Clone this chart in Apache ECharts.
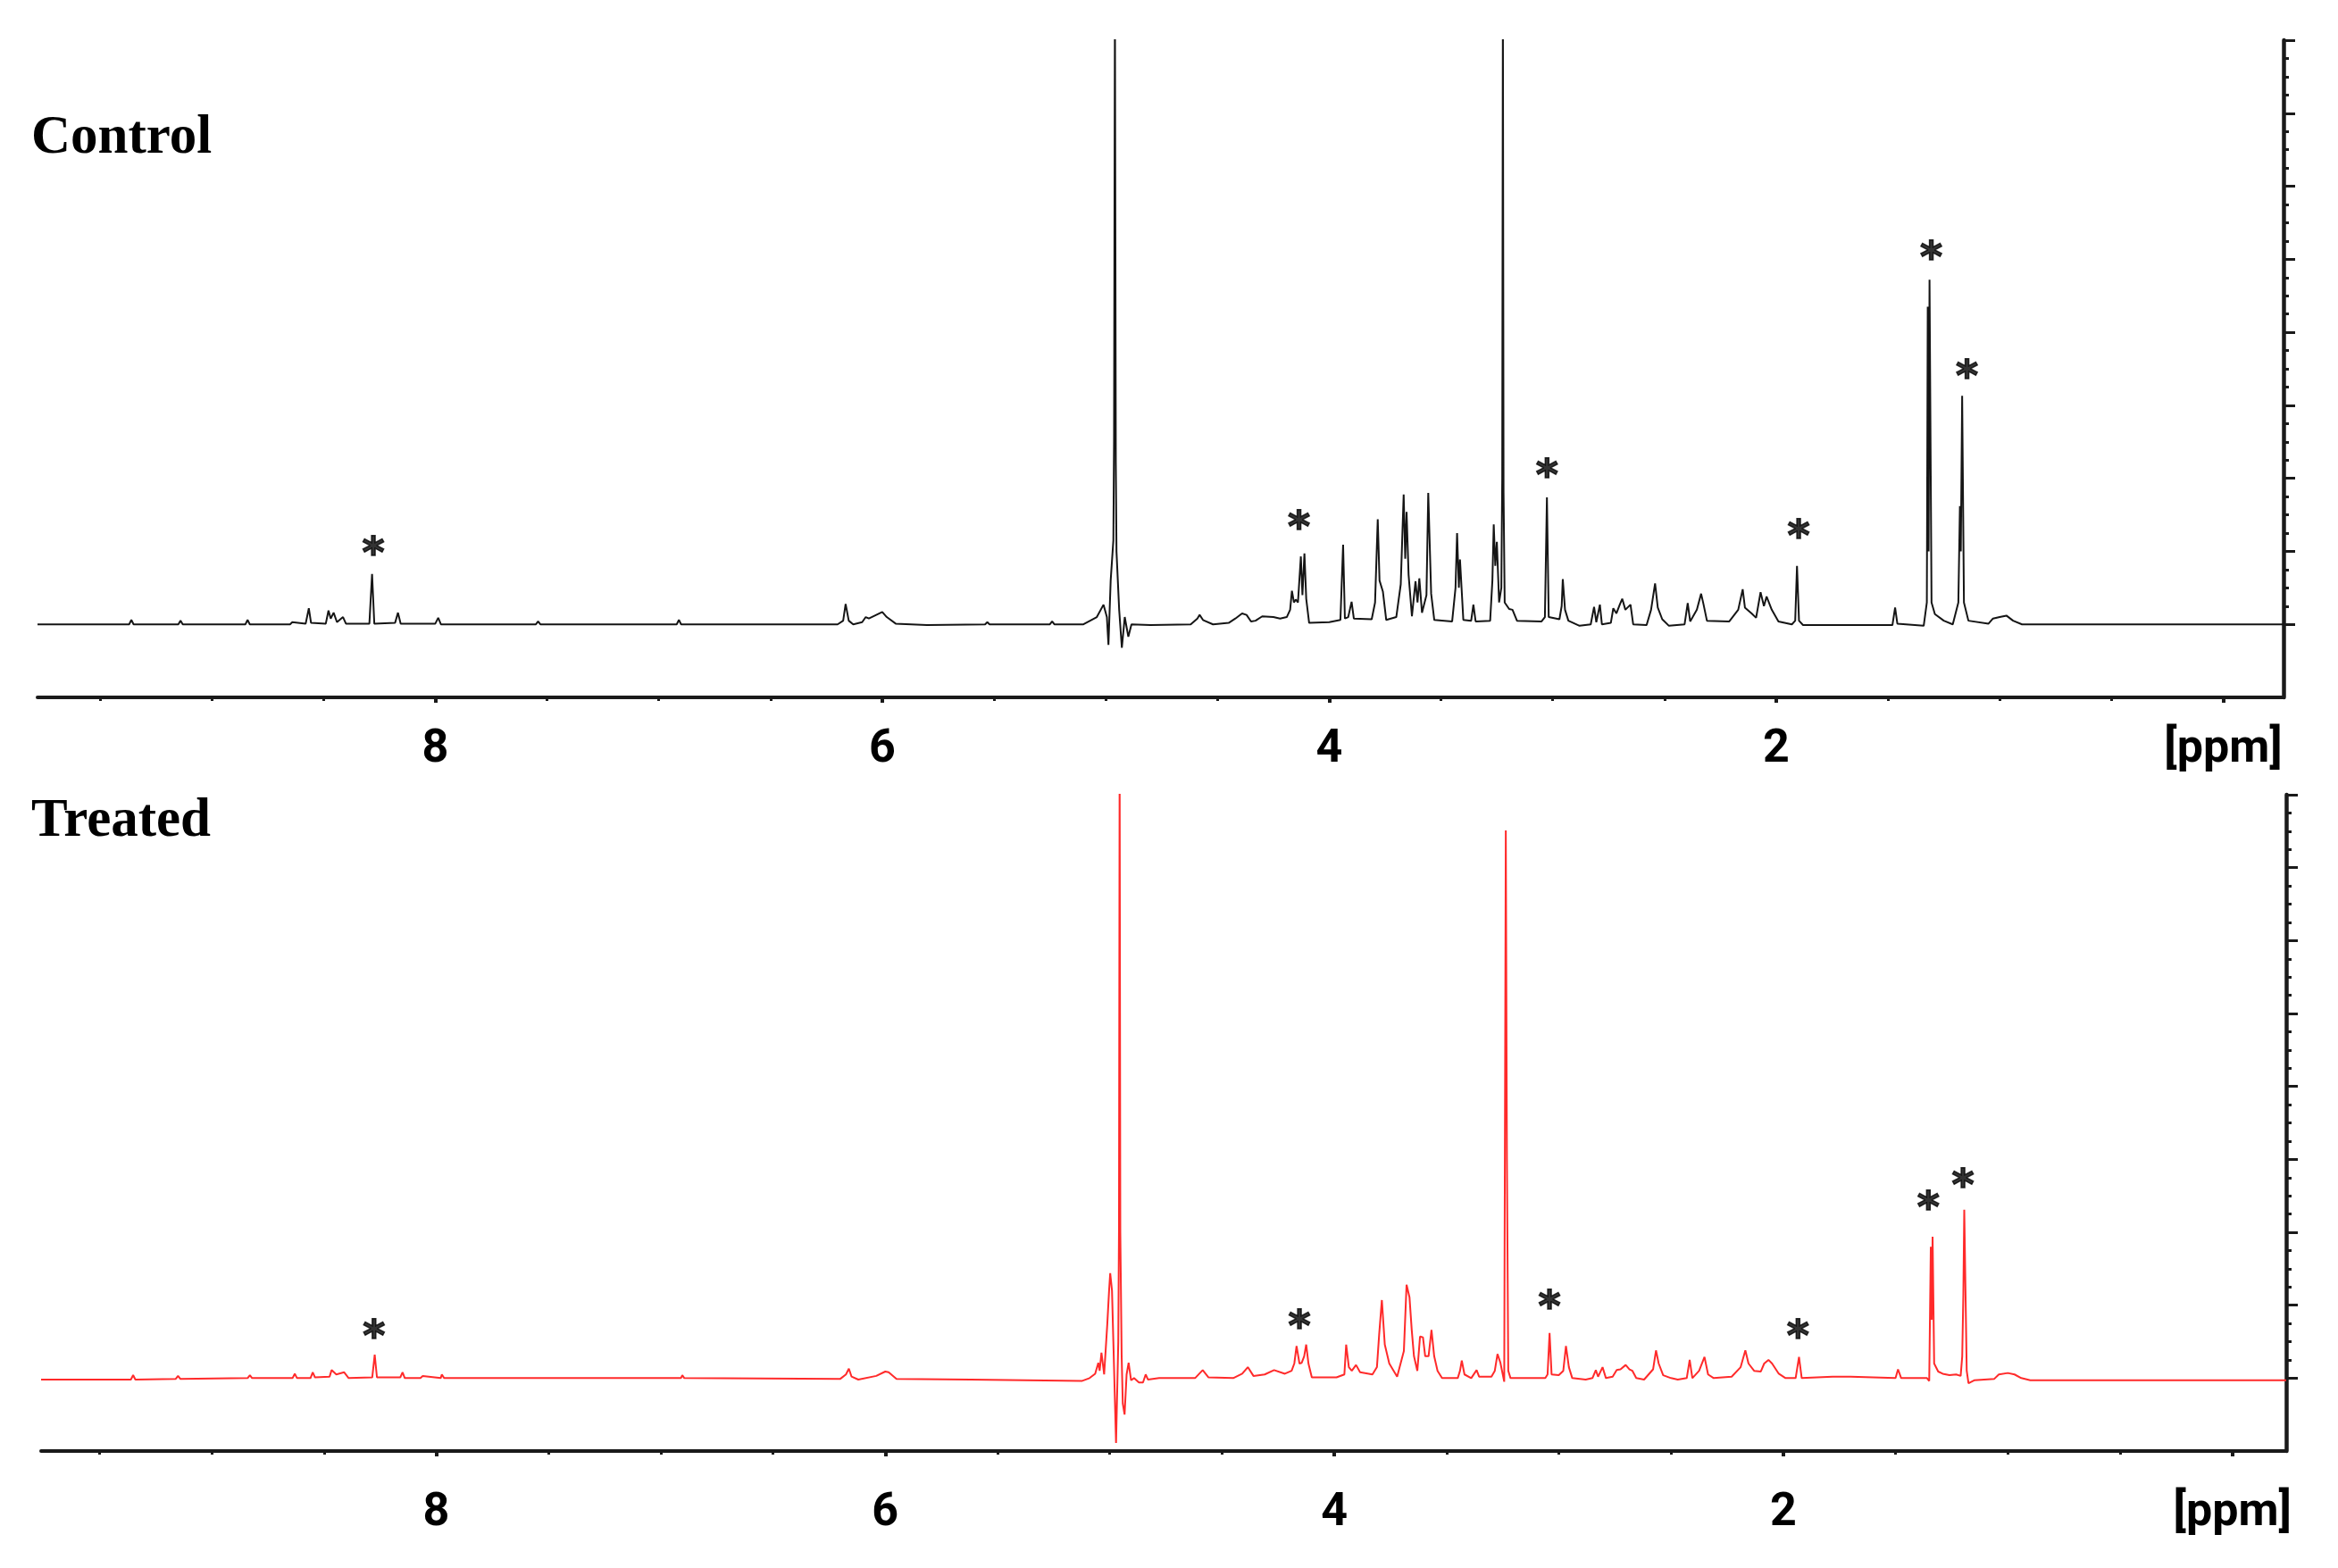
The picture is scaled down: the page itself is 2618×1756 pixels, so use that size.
<!DOCTYPE html>
<html>
<head>
<meta charset="utf-8">
<title>NMR spectra</title>
<script src="https://cdn.jsdelivr.net/npm/echarts@6/dist/echarts.min.js"></script>
<style>
  html, body { margin: 0; padding: 0; background: #fff; }
  #main { width: 2618px; height: 1756px; }
</style>
</head>
<body>
<div id="main"></div>
<script>
// [ppm, intensity]; 1 unit = one major tick on the right axis
const controlSpectrum = [
  [9.78, 0], [9.37, 0], [9.36, 0.06], [9.35, 0], [9.15, 0], [9.14, 0.05], [9.13, 0],
  [8.85, 0], [8.84, 0.06], [8.83, 0], [8.65, 0], [8.64, 0.03], [8.58, 0.01], [8.566, 0.22], [8.556, 0.02],
  [8.49, 0.01], [8.478, 0.19], [8.468, 0.08], [8.455, 0.16], [8.44, 0.03], [8.413, 0.1], [8.4, 0.01],
  [8.295, 0.01], [8.283, 0.69], [8.273, 0.01], [8.18, 0.02], [8.167, 0.16], [8.155, 0.01],
  [8.0, 0.01], [7.987, 0.09], [7.975, 0], [7.55, 0], [7.54, 0.04], [7.53, 0], [6.92, 0], [6.91, 0.06], [6.9, 0],
  [6.2, 0], [6.175, 0.05], [6.164, 0.28], [6.15, 0.05], [6.13, 0], [6.09, 0.03], [6.074, 0.1], [6.06, 0.08],
  [6.0, 0.17], [5.98, 0.1], [5.94, 0.01], [5.8, -0.01], [5.54, 0], [5.53, 0.03], [5.52, 0], [5.25, 0], [5.24, 0.04], [5.23, 0],
  [5.1, 0], [5.04, 0.1], [5.01, 0.27], [4.995, 0.1], [4.988, -0.28], [4.978, 0.6], [4.966, 1.15], [4.963, 2.5], [4.959, 8.6],
  [4.955, 2.2], [4.952, 1.0], [4.94, 0.2], [4.928, -0.32], [4.915, 0.1], [4.899, -0.17], [4.885, 0],
  [4.8, -0.01], [4.62, 0], [4.59, 0.08], [4.58, 0.13], [4.565, 0.06], [4.52, 0], [4.45, 0.02], [4.42, 0.08], [4.39, 0.15],
  [4.37, 0.13], [4.35, 0.04], [4.33, 0.05], [4.3, 0.11], [4.25, 0.1], [4.22, 0.08], [4.19, 0.1], [4.175, 0.2], [4.167, 0.46],
  [4.158, 0.3], [4.15, 0.34], [4.14, 0.3], [4.127, 0.93], [4.12, 0.4], [4.111, 0.97], [4.103, 0.35], [4.09, 0.02],
  [4.0, 0.03], [3.95, 0.06], [3.938, 1.09], [3.93, 0.08], [3.915, 0.1], [3.9, 0.31], [3.89, 0.08],
  [3.81, 0.07], [3.795, 0.3], [3.783, 1.44], [3.775, 0.6], [3.76, 0.45], [3.745, 0.06], [3.7, 0.1], [3.68, 0.55],
  [3.667, 1.78], [3.66, 0.9], [3.654, 1.54], [3.645, 0.68], [3.63, 0.11], [3.614, 0.59], [3.605, 0.3], [3.597, 0.63],
  [3.585, 0.16], [3.565, 0.4], [3.557, 1.8], [3.544, 0.42], [3.53, 0.06], [3.45, 0.04], [3.435, 0.5], [3.428, 1.25],
  [3.42, 0.5], [3.415, 0.89], [3.4, 0.06], [3.365, 0.05], [3.355, 0.27], [3.345, 0.04], [3.28, 0.05], [3.27, 0.6],
  [3.264, 1.37], [3.257, 0.8], [3.25, 1.13], [3.24, 0.3], [3.23, 0.5], [3.226, 2.0], [3.223, 8.6], [3.22, 1.8],
  [3.215, 0.3], [3.195, 0.21],
  [3.18, 0.2], [3.16, 0.05], [3.05, 0.04], [3.035, 0.1], [3.026, 1.74], [3.018, 0.1], [2.97, 0.07], [2.96, 0.25],
  [2.955, 0.62], [2.945, 0.2], [2.93, 0.05], [2.88, -0.02], [2.83, 0], [2.815, 0.24], [2.805, 0.03], [2.789, 0.27],
  [2.78, 0], [2.74, 0.02], [2.729, 0.22], [2.715, 0.15], [2.7, 0.27], [2.689, 0.35], [2.675, 0.2], [2.652, 0.27],
  [2.64, 0], [2.58, -0.01], [2.56, 0.2], [2.542, 0.56], [2.53, 0.23], [2.51, 0.07], [2.48, -0.02], [2.41, 0],
  [2.396, 0.29], [2.385, 0.04], [2.355, 0.2], [2.336, 0.42], [2.325, 0.27], [2.31, 0.05], [2.21, 0.04], [2.17, 0.2],
  [2.15, 0.48], [2.14, 0.23], [2.11, 0.15], [2.09, 0.09], [2.07, 0.44], [2.055, 0.25], [2.043, 0.38], [2.02, 0.2],
  [1.99, 0.04], [1.93, 0], [1.915, 0.05], [1.907, 0.8], [1.898, 0.05], [1.88, -0.01], [1.7, -0.01], [1.48, -0.01],
  [1.468, 0.23], [1.458, 0.01], [1.34, -0.02], [1.326, 0.3], [1.322, 4.35], [1.318, 1.0], [1.314, 4.72], [1.305, 0.3],
  [1.29, 0.14], [1.25, 0.05], [1.21, 0], [1.185, 0.3], [1.178, 1.62], [1.174, 1.0], [1.168, 3.13], [1.16, 0.3],
  [1.14, 0.05], [1.05, 0.01], [1.03, 0.08], [1.0, 0.1], [0.97, 0.12], [0.94, 0.05], [0.9, 0], [-0.27, 0]
];

const treatedSpectrum = [
  [9.76, -0.02], [9.36, -0.02], [9.35, 0.04], [9.34, -0.02], [9.16, -0.01], [9.15, 0.03], [9.14, -0.01],
  [8.84, 0], [8.83, 0.04], [8.82, 0], [8.64, 0], [8.63, 0.06], [8.62, 0], [8.56, 0], [8.55, 0.08], [8.54, 0.01],
  [8.475, 0.02], [8.466, 0.11], [8.445, 0.05], [8.41, 0.08], [8.39, 0], [8.285, 0.01], [8.274, 0.32], [8.264, 0.01],
  [8.16, 0.01], [8.15, 0.08], [8.14, 0], [8.07, 0], [8.06, 0.03], [7.98, 0], [7.975, 0.05], [7.965, 0],
  [7.69, 0], [7.684, 0.02], [6.91, 0], [6.904, 0.04], [6.895, 0], [6.2, -0.01], [6.175, 0.05], [6.162, 0.13],
  [6.15, 0.02], [6.12, -0.02], [6.04, 0.03], [6.0, 0.09], [5.985, 0.08], [5.95, -0.01], [5.62, -0.02], [5.125, -0.04],
  [5.09, 0], [5.065, 0.06], [5.051, 0.21], [5.045, 0.1], [5.037, 0.35], [5.025, 0.05], [5.011, 0.74], [5.003, 1.2],
  [4.998, 1.44], [4.99, 1.2], [4.984, 0.5], [4.972, -0.89], [4.962, 0.5], [4.959, 2.0], [4.956, 8.6], [4.953, 2.0],
  [4.947, 0.3],
  [4.942, -0.35], [4.934, -0.5], [4.925, 0.05], [4.916, 0.21], [4.905, -0.03], [4.892, 0], [4.87, -0.06], [4.852, -0.06],
  [4.84, 0.05], [4.83, -0.02], [4.78, 0], [4.62, 0], [4.586, 0.11], [4.56, 0.01], [4.45, 0], [4.41, 0.06], [4.385, 0.15],
  [4.36, 0.03], [4.31, 0.05], [4.268, 0.11], [4.22, 0.06], [4.19, 0.1], [4.178, 0.2], [4.168, 0.44], [4.155, 0.2],
  [4.145, 0.21], [4.134, 0.3], [4.125, 0.46], [4.115, 0.2], [4.1, 0.01], [3.99, 0.01], [3.955, 0.05], [3.947, 0.46],
  [3.935, 0.15], [3.922, 0.1], [3.903, 0.18], [3.885, 0.08], [3.83, 0.05], [3.81, 0.15], [3.8, 0.6], [3.788, 1.07],
  [3.775, 0.46], [3.755, 0.2], [3.72, 0.02], [3.69, 0.37], [3.678, 1.28], [3.665, 1.11], [3.655, 0.66], [3.645, 0.3],
  [3.63, 0.1], [3.618, 0.57], [3.605, 0.56], [3.595, 0.3], [3.58, 0.3], [3.567, 0.66], [3.555, 0.3], [3.54, 0.1],
  [3.52, 0], [3.45, 0], [3.44, 0.1], [3.432, 0.24], [3.42, 0.05], [3.39, 0], [3.366, 0.11], [3.355, 0.02],
  [3.3, 0.02], [3.285, 0.1], [3.273, 0.33], [3.26, 0.21], [3.243, -0.05], [3.236, 7.51], [3.231, 3.0], [3.225, 0.1],
  [3.215, 0], [3.19, 0], [3.06, 0], [3.05, 0.05], [3.041, 0.62], [3.032, 0.05], [3.0, 0.04], [2.98, 0.1],
  [2.968, 0.44], [2.955, 0.15], [2.94, 0], [2.88, -0.02], [2.85, 0], [2.835, 0.11], [2.825, 0.02], [2.805, 0.15],
  [2.79, 0], [2.76, 0.02], [2.742, 0.11], [2.725, 0.12], [2.702, 0.18], [2.685, 0.12], [2.672, 0.1], [2.655, 0],
  [2.62, -0.02], [2.58, 0.12], [2.567, 0.38], [2.555, 0.2], [2.535, 0.04], [2.5, 0], [2.47, -0.02], [2.43, 0],
  [2.417, 0.25], [2.405, 0], [2.375, 0.1], [2.351, 0.29], [2.335, 0.05], [2.31, 0], [2.23, 0.02], [2.19, 0.15],
  [2.169, 0.38], [2.155, 0.2], [2.13, 0.1], [2.1, 0.09], [2.085, 0.2], [2.066, 0.25], [2.05, 0.2], [2.02, 0.06],
  [1.99, 0], [1.945, 0], [1.93, 0.29], [1.918, 0], [1.78, 0.02], [1.7, 0.02], [1.5, 0], [1.489, 0.12], [1.475, 0],
  [1.36, 0], [1.35, -0.04], [1.343, 1.8], [1.339, 0.8], [1.335, 1.94], [1.328, 0.2], [1.31, 0.09], [1.29, 0.06],
  [1.26, 0.04], [1.23, 0.05], [1.21, 0.03], [1.203, 0.3], [1.198, 1.15], [1.194, 2.31], [1.189, 1.3], [1.183, 0.1],
  [1.175, -0.07], [1.15, -0.03], [1.06, -0.01], [1.04, 0.05], [1.0, 0.07], [0.97, 0.05], [0.94, 0], [0.9, -0.03],
  [-0.24, -0.03]
];

// asterisk marks: [ppm, height]
const controlStars = [[8.277, 1.08], [4.135, 1.44], [3.026, 2.15], [1.9, 1.32], [1.306, 5.13], [1.146, 3.5]];
const treatedStars = [[8.277, 0.68], [4.155, 0.82], [3.041, 1.09], [1.935, 0.68], [1.354, 2.45], [1.2, 2.75]];

const panelTitles = ['Control', 'Treated'];
const ppmLabels = [0, 2, 4, 6, 8];
const ppmMinor = [0.5, 1, 1.5, 2.5, 3, 3.5, 4.5, 5, 5.5, 6.5, 7, 7.5, 8.5, 9, 9.5];
const intensityMajor = [0, 1, 2, 3, 4, 5, 6, 7, 8];
const intensityMinor = [];
for (let i = 0; i < 8; i++) {
  intensityMinor.push(i + 0.25, i + 0.5, i + 0.75);
}

const chart = echarts.init(document.getElementById('main'), null, {renderer: 'canvas'});

const ranges = [
  {min: -0.27, max: 9.78},
  {min: -0.24, max: 9.76}
];
const labelMargins = [33, 44];

const xAxes = [];
const yAxes = [];
[0, 1].forEach(g => {
  xAxes.push({
    type: 'value', gridIndex: g, inverse: true, position: 'bottom',
    min: ranges[g].min, max: ranges[g].max,
    splitLine: {show: false},
    axisLine: {show: true, onZero: false, lineStyle: {color: '#1a1a1a', width: 4}},
    axisTick: {show: true, customValues: ppmLabels, length: 6, lineStyle: {color: '#1a1a1a', width: 4}},
    axisLabel: {
      show: true, customValues: ppmLabels, margin: labelMargins[g],
      fontFamily: 'Roboto', fontWeight: 'bold', fontSize: 52, color: '#000',
      formatter: v => v === 0 ? '[ppm]' : String(v)
    }
  });
  xAxes.push({
    type: 'value', gridIndex: g, inverse: true, position: 'bottom',
    min: ranges[g].min, max: ranges[g].max,
    splitLine: {show: false},
    axisLine: {show: false, onZero: false},
    axisTick: {show: true, customValues: ppmMinor, length: 4, lineStyle: {color: '#1a1a1a', width: 3}},
    axisLabel: {show: false}
  });
  yAxes.push({
    type: 'value', gridIndex: g, position: 'right', min: -1, max: 8,
    splitLine: {show: false},
    axisLine: {show: true, onZero: false, lineStyle: {color: '#1a1a1a', width: 4.5}},
    axisTick: {show: true, customValues: intensityMajor, length: 13, lineStyle: {color: '#1a1a1a', width: 3}},
    axisLabel: {show: false}
  });
  yAxes.push({
    type: 'value', gridIndex: g, position: 'right', min: -1, max: 8,
    splitLine: {show: false},
    axisLine: {show: false, onZero: false},
    axisTick: {show: true, customValues: intensityMinor, length: 6, lineStyle: {color: '#1a1a1a', width: 3}},
    axisLabel: {show: false}
  });
});

const starSeries = (data, g) => ({
  type: 'scatter', xAxisIndex: g * 2, yAxisIndex: g * 2, data: data,
  symbol: 'circle', symbolSize: 1, itemStyle: {color: 'rgba(0,0,0,0)'},
  silent: true,
  label: {
    show: true, position: 'inside', formatter: '*', offset: [0, 12],
    fontFamily: 'DejaVu Sans', fontWeight: 'bold', fontSize: 48, color: '#000',
    textBorderColor: '#000', textBorderWidth: 1.5
  }
});

const option = {
  animation: false,
  backgroundColor: '#fff',
  title: panelTitles.map((t, i) => ({
    text: t, left: 35, top: i === 0 ? 125 : 890, padding: 0,
    textStyle: {fontFamily: 'Liberation Serif', fontWeight: 'bold', fontSize: 61, color: '#000'}
  })),
  grid: [
    {left: 42, width: 2515, top: 45, height: 736},
    {left: 46, width: 2514, top: 890, height: 735}
  ],
  xAxis: xAxes,
  yAxis: yAxes,
  series: [
    {
      type: 'line', xAxisIndex: 0, yAxisIndex: 0, data: controlSpectrum,
      showSymbol: false, clip: true, silent: true,
      lineStyle: {color: '#151515', width: 2}
    },
    {
      type: 'line', xAxisIndex: 2, yAxisIndex: 2, data: treatedSpectrum,
      showSymbol: false, clip: true, silent: true,
      lineStyle: {color: '#ff2a2a', width: 2}
    },
    starSeries(controlStars, 0),
    starSeries(treatedStars, 1)
  ]
};

chart.setOption(option);
</script>
</body>
</html>
